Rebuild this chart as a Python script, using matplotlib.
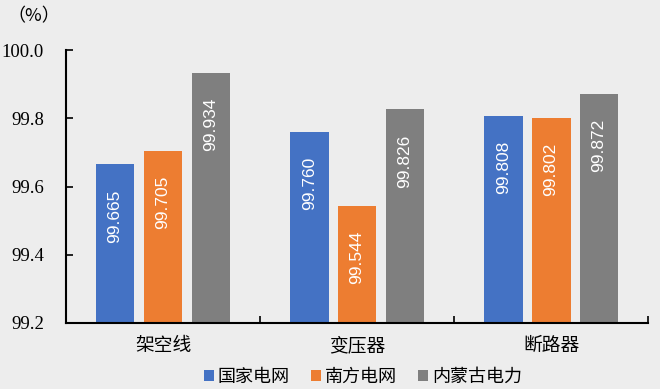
import numpy as np
import matplotlib.pyplot as plt

plt.rcParams['font.family'] = ['Liberation Serif', 'Noto Sans CJK SC']

categories = ["架空线", "变压器", "断路器"]
series = ["国家电网", "南方电网", "内蒙古电力"]
guojia = [99.665, 99.760, 99.808]
nanfang = [99.705, 99.544, 99.802]
neimeng = [99.934, 99.826, 99.872]
yticks = [99.2, 99.4, 99.6, 99.8, 100.0]

colors = ["#4472C4", "#ED7D31", "#7F7F7F"]
bg = "#ededed"

fig = plt.figure(figsize=(6.6, 3.89), dpi=100, facecolor=bg)
ax = fig.add_axes([0.1, 0.17, 0.882, 0.701], facecolor=bg)

x = np.arange(len(categories))
w = 0.2
step = 0.247
for i, (vals, name) in enumerate(zip([guojia, nanfang, neimeng], series)):
    pos = x + (i - 1) * step
    bars = ax.bar(pos, np.array(vals) - 99.2, w, bottom=99.2, color=colors[i], label=name)
    for b, v in zip(bars, vals):
        ax.annotate(f"{v:.3f}", (b.get_x() + b.get_width() / 2, v),
                    xytext=(0, -18), textcoords="offset points",
                    rotation=90, ha="center", va="top", color="white",
                    fontsize=12.5, family="Liberation Sans")

ax.set_ylim(99.2, 100.0)
ax.set_yticks(yticks)
ax.set_yticklabels([f"{t:.1f}" for t in yticks], fontsize=13.5)
ax.set_xlim(-0.5, 2.5)
ax.set_xticks(x)
ax.set_xticklabels(categories, fontsize=13.5, family=["Noto Sans CJK SC"])
ax.tick_params(axis="x", which="major", length=0, pad=9)
ax.set_xticks([-0.5, 0.5, 1.5, 2.5], minor=True)
ax.tick_params(axis="x", which="minor", direction="in", length=5, width=1.2)
ax.tick_params(axis="y", direction="in", length=5, width=1.2, pad=16)

for s in ["top", "right"]:
    ax.spines[s].set_visible(False)
for s in ["left", "bottom"]:
    ax.spines[s].set_linewidth(1.5)

fig.text(0.012, 0.958, "（%）", fontsize=13, family=["Noto Sans CJK SC"], va="center")

ax.legend(loc="lower center", bbox_to_anchor=(0.51, -0.29), ncol=3, frameon=False,
          prop={"family": "Noto Sans CJK SC", "size": 13},
          handlelength=0.55, handleheight=0.55, handletextpad=0.2, columnspacing=1.2)

fig.savefig("out.png", dpi=100, facecolor=bg)
